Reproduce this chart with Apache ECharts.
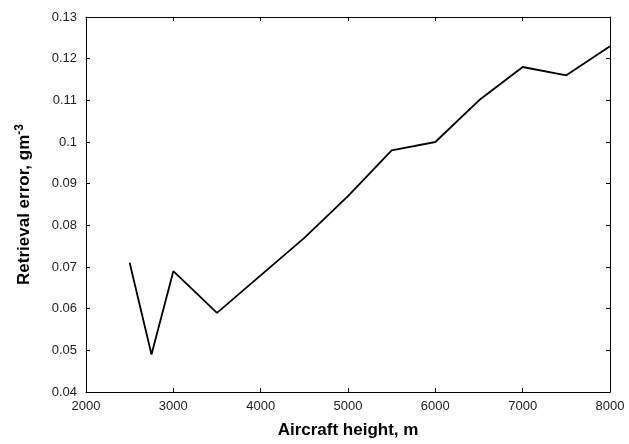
<!DOCTYPE html>
<html>
<head>
<meta charset="utf-8">
<script src="https://cdn.jsdelivr.net/npm/echarts@6/dist/echarts.min.js"></script>
<style>html,body{margin:0;padding:0;background:#fff}#c{width:629px;height:444px}</style>
</head>
<body>
<div id="c"></div>
<script>
var heights = [2500, 2750, 3000, 3500, 4000, 4500, 5000, 5500, 6000, 6500, 7000, 7500, 8000];
var errors = [0.071, 0.049, 0.069, 0.059, 0.068, 0.077, 0.087, 0.098, 0.100, 0.110, 0.118, 0.116, 0.123];
var xTicks = [2000, 3000, 4000, 5000, 6000, 7000, 8000];
var yTicks = [0.04, 0.05, 0.06, 0.07, 0.08, 0.09, 0.1, 0.11, 0.12, 0.13];

var chart = echarts.init(document.getElementById('c'), null, {renderer: 'canvas'});
var font = 'Liberation Sans, Arial, Helvetica, sans-serif';
var axisLine = {show: true, lineStyle: {color: '#000', width: 1}};
var tick = {show: true, inside: true, length: 4, lineStyle: {color: '#000', width: 1}};
function fmtY(v) { return String(Math.round(v * 100) / 100); }
function fmtX(v) { return String(Math.round(v)); }
chart.setOption({
  animation: false,
  grid: {left: 86, right: 19, top: 17, bottom: 46, containLabel: false},
  xAxis: [{
    type: 'value', min: 2000, max: 8000, interval: 1000, position: 'bottom',
    axisLine: axisLine, axisTick: tick, splitLine: {show: false},
    axisLabel: {color: '#222', fontFamily: font, fontSize: 13, margin: 8, formatter: fmtX},
    name: 'Aircraft height, m', nameLocation: 'middle', nameGap: 30,
    nameTextStyle: {color: '#000', fontFamily: font, fontSize: 17, fontWeight: 'bold'}
  }, {
    type: 'value', min: 2000, max: 8000, interval: 1000, position: 'top',
    axisLine: axisLine, axisTick: tick, splitLine: {show: false}, axisLabel: {show: false}
  }],
  yAxis: [{
    type: 'value', min: 0.04, max: 0.13, interval: 0.01, position: 'left',
    axisLine: axisLine, axisTick: tick, splitLine: {show: false},
    axisLabel: {color: '#222', fontFamily: font, fontSize: 13, margin: 9, formatter: fmtY},
    name: '{a|Retrieval error, gm}{s|-3}', nameLocation: 'middle', nameGap: 52, nameRotate: 90,
    nameTextStyle: {
      color: '#000', fontFamily: font, fontSize: 17, fontWeight: 'bold',
      rich: {
        a: {fontFamily: font, fontSize: 17, fontWeight: 'bold', color: '#000'},
        s: {fontFamily: font, fontSize: 12, fontWeight: 'bold', color: '#000', verticalAlign: 'top', padding: [0, 0, 8, 0]}
      }
    }
  }, {
    type: 'value', min: 0.04, max: 0.13, interval: 0.01, position: 'right',
    axisLine: axisLine, axisTick: tick, splitLine: {show: false}, axisLabel: {show: false}
  }],
  series: [{
    type: 'line',
    data: heights.map(function (h, i) { return [h, errors[i]]; }),
    showSymbol: false, symbol: 'none',
    lineStyle: {color: '#000', width: 1.8},
    xAxisIndex: 0, yAxisIndex: 0
  }]
});
</script>
</body>
</html>
